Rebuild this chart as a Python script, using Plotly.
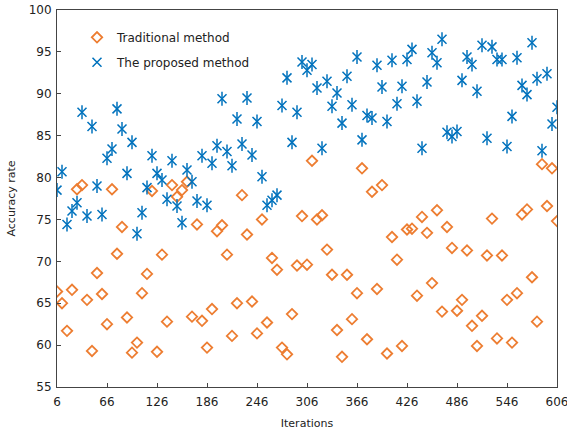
import plotly.graph_objects as go

iterations = list(range(6, 607, 6))

traditional = [
    66.4, 65.0, 61.7, 66.6, 78.6, 79.1, 65.4, 59.3, 68.6, 66.1,
    62.5, 78.6, 70.9, 74.1, 63.3, 59.1, 60.3, 66.2, 68.5, 78.4,
    59.2, 70.8, 62.8, 79.1, 77.7, 78.5, 79.5, 63.4, 74.4, 62.9,
    59.7, 64.3, 73.6, 74.3, 70.8, 61.1, 65.0, 77.9, 73.2, 65.2,
    61.4, 75.0, 62.7, 70.4, 69.0, 59.7, 58.9, 63.7, 69.5, 75.4,
    69.6, 82.0, 75.0, 75.5, 71.4, 68.4, 61.8, 58.6, 68.4, 63.1,
    66.2, 81.1, 60.7, 78.3, 66.7, 79.1, 59.0, 72.9, 70.2, 59.9,
    73.8, 73.9, 65.9, 75.3, 73.4, 67.4, 76.1, 64.0, 74.1, 71.6,
    64.1, 65.4, 71.3, 62.3, 59.9, 63.5, 70.7, 75.1, 60.8, 70.7,
    65.4, 60.3, 66.2, 75.6, 76.2, 68.1, 62.8, 81.6, 76.6, 81.1,
    74.8,
]

proposed = [
    78.5, 80.7, 74.4, 76.0, 77.0, 87.8, 75.4, 86.1, 79.0, 75.6,
    82.3, 83.4, 88.2, 85.8, 80.5, 84.2, 73.3, 75.8, 78.8, 82.6,
    80.5, 79.7, 77.4, 82.0, 76.6, 74.6, 80.9, 79.5, 77.2, 82.6,
    76.7, 81.7, 83.8, 89.4, 83.1, 81.4, 87.0, 84.0, 89.5, 82.7,
    86.7, 80.1, 76.7, 77.3, 77.9, 88.6, 91.9, 84.2, 87.8, 93.8,
    92.8, 93.5, 90.7, 83.5, 91.5, 88.5, 90.1, 86.5, 92.1, 88.7,
    94.4, 84.5, 87.4, 87.1, 93.4, 90.8, 86.7, 94.0, 88.8, 90.9,
    94.1, 95.3, 89.1, 83.5, 91.4, 94.9, 93.7, 96.5, 85.4, 84.9,
    85.5, 91.6, 94.4, 93.5, 90.3, 95.8, 84.7, 95.6, 94.1, 94.1,
    83.7, 87.3, 94.3, 91.0, 89.9, 96.1, 91.8, 83.2, 92.4, 86.4,
    88.4,
]

x_ticks = list(range(6, 607, 60))
y_ticks = list(range(55, 101, 5))

ORANGE = "#ED7D31"
BLUE = "#0072BD"
FONT = "DejaVu Sans"

fig = go.Figure()
fig.add_trace(go.Scatter(
    x=iterations, y=traditional, mode="markers", name="Traditional method",
    marker=dict(symbol="diamond-open", size=8, color=ORANGE, line=dict(width=1.8, color=ORANGE)),
))
fig.add_trace(go.Scatter(
    x=iterations, y=proposed, mode="markers", name="The proposed method",
    legendgroup="p",
    marker=dict(symbol="x-thin-open", size=9, color=BLUE, line=dict(width=1.5, color=BLUE)),
))
fig.add_trace(go.Scatter(
    x=iterations, y=proposed, mode="markers", name="The proposed method",
    legendgroup="p", showlegend=False,
    marker=dict(symbol="line-ns-open", size=10, color=BLUE, line=dict(width=1.5, color=BLUE)),
))

axis_common = dict(
    showline=True, linecolor="#444444", linewidth=1, mirror=True,
    ticks="inside", ticklen=4, tickcolor="#444444",
    showgrid=False, zeroline=False, automargin=False,
    tickfont=dict(family=FONT, size=12, color="#222222"),
    ticklabeloverflow="allow",
)

fig.update_layout(
    width=567, height=434,
    margin=dict(l=57, r=10, t=10, b=47),
    paper_bgcolor="white", plot_bgcolor="white",
    font=dict(family=FONT, size=12, color="#222222"),
    xaxis=dict(range=[6, 606], tickvals=x_ticks, ticktext=[str(v) for v in x_ticks],
               ticklabelstandoff=4,
               title=dict(text="Iterations", font=dict(family=FONT, size=11), standoff=10),
               **axis_common),
    yaxis=dict(range=[55, 100], tickvals=y_ticks, ticklabelstandoff=2,
               title=dict(text="Accuracy rate", font=dict(family=FONT, size=11), standoff=10),
               **axis_common),
    legend=dict(x=0.04, y=0.966, xanchor="left", yanchor="top",
                bgcolor="rgba(255,255,255,0)", borderwidth=0,
                font=dict(family=FONT, size=12, color="#222222"),
                tracegroupgap=6, itemwidth=30),
    showlegend=True,
)

fig.write_html("out.html")
